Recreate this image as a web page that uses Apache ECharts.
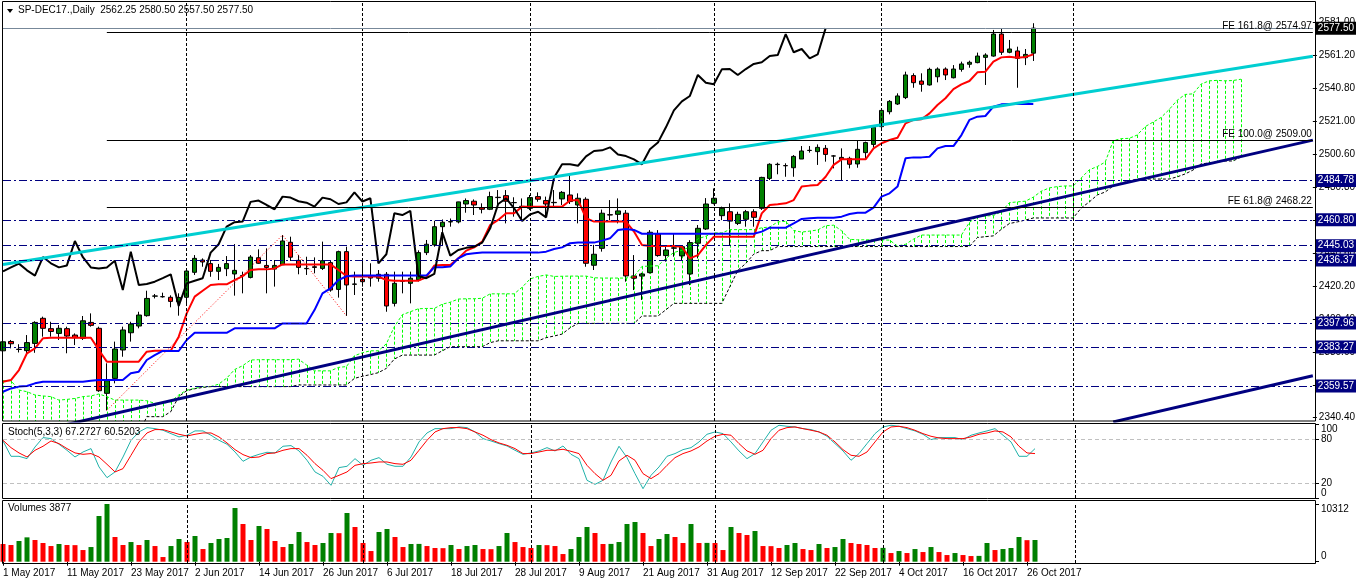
<!DOCTYPE html>
<html>
<head>
<meta charset="utf-8">
<title>SP-DEC17 Daily</title>
<script src="https://cdn.jsdelivr.net/npm/echarts@6/dist/echarts.min.js"></script>
<style>
  html, body { margin: 0; padding: 0; background: #fff; }
  #chart { width: 1358px; height: 584px; }
</style>
</head>
<body>
<div id="chart"></div>
<script>
// daily bars from 1 May 2017 to 27 Oct 2017
const open = [
  2381.0, 2386.7, 2382.0, 2381.1, 2385.5, 2400.8, 2394.5, 2391.6, 2394.5, 2390.6,
  2388.6, 2398.3, 2394.7, 2355.1, 2364.2, 2381.5, 2392.0, 2396.1, 2402.4, 2414.3,
  2413.9, 2413.6, 2410.9, 2413.6, 2428.8, 2436.3, 2434.1, 2429.4, 2431.0, 2427.8,
  2426.9, 2425.7, 2437.7, 2433.0, 2430.8, 2433.4, 2447.1, 2436.1, 2431.0, 2432.2,
  2431.2, 2434.7, 2418.4, 2441.4, 2421.5, 2424.5, 2426.8, 2425.2, 2427.6, 2409.9,
  2423.3, 2422.1, 2424.2, 2440.8, 2445.5, 2456.6, 2459.5, 2459.5, 2470.4, 2472.1,
  2468.2, 2467.2, 2474.5, 2475.5, 2471.3, 2469.0, 2467.8, 2474.9, 2472.5, 2471.2,
  2473.5, 2475.9, 2469.8, 2473.3, 2433.1, 2443.4, 2463.9, 2464.1, 2464.8, 2426.6,
  2426.5, 2428.6, 2452.2, 2439.0, 2443.5, 2438.8, 2427.8, 2446.5, 2455.2, 2470.8,
  2463.3, 2465.7, 2458.6, 2461.1, 2465.7, 2467.8, 2486.0, 2494.4, 2493.8, 2492.5,
  2497.8, 2503.0, 2502.3, 2504.3, 2499.7, 2498.8, 2498.2, 2494.8, 2501.7, 2506.7,
  2517.5, 2526.6, 2531.3, 2535.2, 2548.6, 2545.3, 2542.9, 2547.9, 2552.6, 2547.3,
  2552.4, 2555.5, 2556.5, 2559.7, 2560.5, 2573.9, 2562.8, 2563.6, 2559.5, 2562.25
];
const high = [
  2390.0, 2387.6, 2385.0, 2390.6, 2399.0, 2401.8, 2398.7, 2396.7, 2395.7, 2391.6,
  2402.2, 2403.8, 2395.7, 2373.4, 2386.6, 2395.7, 2398.7, 2404.8, 2417.6, 2415.6,
  2416.4, 2414.8, 2416.0, 2430.6, 2439.3, 2437.3, 2436.3, 2433.9, 2438.7, 2446.0,
  2429.2, 2439.3, 2442.8, 2443.4, 2436.3, 2451.5, 2450.5, 2439.3, 2438.3, 2437.9,
  2447.5, 2436.3, 2442.0, 2444.4, 2429.2, 2436.3, 2434.3, 2430.2, 2429.0, 2429.2,
  2429.2, 2429.2, 2442.2, 2448.5, 2460.2, 2461.0, 2461.6, 2471.8, 2473.8, 2473.2,
  2470.8, 2477.9, 2478.9, 2478.9, 2474.5, 2473.8, 2475.9, 2477.5, 2474.9, 2478.9,
  2478.3, 2488.1, 2476.9, 2474.5, 2445.5, 2467.0, 2472.8, 2473.8, 2466.7, 2439.3,
  2428.5, 2454.5, 2454.5, 2445.4, 2452.5, 2445.4, 2448.4, 2457.6, 2474.0, 2479.9,
  2468.8, 2470.8, 2465.7, 2466.8, 2467.2, 2487.0, 2495.2, 2495.6, 2495.2, 2500.2,
  2505.7, 2505.7, 2506.7, 2506.3, 2500.2, 2504.3, 2499.2, 2508.8, 2508.4, 2517.5,
  2528.7, 2533.7, 2537.8, 2551.0, 2550.0, 2550.0, 2553.4, 2553.6, 2553.6, 2555.0,
  2557.1, 2557.7, 2562.6, 2562.2, 2576.4, 2577.0, 2570.3, 2566.2, 2564.8, 2580.5
];
const low = [
  2377.5, 2382.5, 2380.0, 2378.4, 2379.8, 2389.6, 2389.6, 2387.6, 2379.5, 2384.5,
  2387.6, 2395.7, 2356.0, 2344.75, 2361.2, 2377.4, 2386.6, 2394.7, 2401.8, 2412.9,
  2413.4, 2407.5, 2402.4, 2409.9, 2427.2, 2432.2, 2426.1, 2424.1, 2426.5, 2414.6,
  2416.0, 2425.1, 2434.0, 2416.0, 2420.1, 2433.2, 2435.7, 2427.6, 2427.2, 2428.2,
  2430.2, 2417.0, 2413.4, 2402.25, 2415.0, 2420.1, 2420.1, 2423.1, 2404.8, 2408.0,
  2416.0, 2409.9, 2423.2, 2439.3, 2444.4, 2445.0, 2456.6, 2458.6, 2465.1, 2463.7,
  2464.7, 2466.7, 2469.8, 2458.6, 2462.7, 2460.6, 2466.7, 2471.8, 2462.7, 2468.8,
  2469.8, 2470.4, 2458.6, 2432.2, 2430.2, 2441.4, 2460.6, 2458.6, 2423.1, 2418.0,
  2412.0, 2428.1, 2438.3, 2435.3, 2438.3, 2436.3, 2421.0, 2437.3, 2454.6, 2470.2,
  2460.6, 2445.4, 2457.6, 2456.6, 2456.6, 2466.8, 2485.0, 2488.5, 2487.0, 2487.0,
  2497.8, 2501.7, 2494.2, 2496.2, 2492.1, 2485.0, 2492.1, 2492.5, 2498.2, 2504.7,
  2515.5, 2525.0, 2530.7, 2534.3, 2541.2, 2538.8, 2542.5, 2544.5, 2545.9, 2546.9,
  2551.0, 2553.4, 2556.1, 2542.9, 2560.1, 2561.2, 2562.2, 2541.2, 2555.0, 2557.5
];
const close = [
  2386.5, 2385.3, 2381.8, 2386.0, 2398.3, 2394.7, 2392.8, 2394.7, 2390.0, 2389.0,
  2399.3, 2396.5, 2356.7, 2362.8, 2382.1, 2393.7, 2397.3, 2402.8, 2412.9, 2414.4,
  2414.0, 2411.1, 2413.5, 2429.6, 2437.3, 2435.1, 2429.4, 2431.8, 2434.1, 2430.0,
  2426.8, 2438.1, 2434.3, 2431.8, 2433.0, 2447.9, 2438.0, 2431.8, 2431.2, 2431.8,
  2435.9, 2418.0, 2441.4, 2421.1, 2421.7, 2423.1, 2425.3, 2427.6, 2408.3, 2422.1,
  2423.7, 2425.2, 2440.8, 2445.9, 2456.6, 2459.3, 2459.7, 2471.7, 2472.5, 2469.8,
  2467.2, 2474.9, 2474.3, 2472.1, 2471.2, 2468.8, 2474.3, 2473.3, 2470.4, 2471.4,
  2477.5, 2471.9, 2473.9, 2434.3, 2439.8, 2464.8, 2463.7, 2466.2, 2426.6, 2425.2,
  2427.8, 2453.2, 2439.0, 2442.4, 2443.7, 2444.4, 2446.9, 2455.6, 2470.4, 2473.9,
  2467.8, 2460.0, 2464.1, 2465.7, 2462.3, 2486.6, 2494.6, 2494.6, 2493.7, 2499.4,
  2502.7, 2503.1, 2504.9, 2500.6, 2499.6, 2497.6, 2494.6, 2503.7, 2507.8, 2517.1,
  2527.4, 2532.9, 2536.2, 2549.0, 2544.3, 2543.3, 2552.4, 2552.6, 2549.0, 2552.6,
  2555.7, 2556.7, 2560.5, 2561.1, 2573.9, 2562.8, 2564.8, 2559.1, 2561.5, 2577.5
];
const volume = [
  3159, 2980, 3695, 4351, 3874, 3338, 2801, 3159, 2980, 2960,
  2086, 2622, 8165, 10312, 4410, 2980, 3516, 2980, 3874, 2801,
  834, 2801, 4053, 3516, 4589, 2265, 3338, 4053, 4232, 9596,
  6735, 3874, 6377, 5841, 3695, 2622, 3159, 5304, 3516, 2980,
  3338, 5126, 5100, 8702, 6198, 3338, 1907, 5304, 5841, 4410,
  2622, 3159, 3180, 2801, 2444, 2420, 2980, 2265, 2801, 2980,
  2265, 2240, 2801, 5126, 3516, 2622, 2444, 2980, 2960, 2801,
  1371, 2265, 4410, 6198, 5126, 3159, 3180, 3516, 6735, 7092,
  5126, 2801, 4053, 4947, 4410, 3338, 6735, 3338, 3360, 3338,
  2086, 6198, 5126, 4768, 5483, 2801, 2780, 2444, 2980, 3338,
  2265, 2086, 3159, 2444, 2622, 4053, 3338, 3159, 2980, 2444,
  2470, 1550, 1907, 1550, 2265, 1728, 2622, 1728, 1192, 1550,
  1192, 1013, 1040, 3338, 2086, 2265, 2444, 4410, 3850, 3877
];
const stochMain = [
  77.7, 56.8, 56.8, 53.6, 69.5, 82.3, 80.9, 73.2, 65.0, 55.9,
  62.7, 67.3, 42.3, 27.7, 35.5, 55.9, 78.6, 90.0, 95.9, 94.5,
  92.3, 87.7, 83.2, 85.5, 91.4, 91.4, 85.5, 78.6, 73.2, 62.7,
  50.0, 55.9, 59.5, 62.3, 61.4, 70.5, 71.4, 64.1, 51.4, 35.5,
  29.5, 17.3, 41.4, 43.2, 53.6, 44.5, 51.4, 55.0, 45.9, 43.2,
  43.2, 55.9, 76.4, 88.6, 94.5, 94.5, 94.5, 96.8, 95.9, 90.0,
  80.9, 77.7, 74.1, 70.9, 65.0, 59.5, 61.4, 64.1, 68.6, 64.1,
  70.9, 59.5, 53.6, 24.1, 18.6, 24.1, 49.1, 70.5, 55.0, 33.2,
  12.7, 30.9, 42.3, 56.8, 60.5, 65.9, 68.6, 76.4, 86.8, 90.0,
  87.7, 76.4, 64.1, 53.6, 60.5, 76.4, 92.3, 99.1, 97.7, 96.8,
  94.5, 93.2, 90.0, 84.1, 74.1, 64.1, 51.4, 60.5, 74.1, 87.7,
  96.8, 99.1, 97.7, 94.5, 91.4, 86.8, 79.5, 82.3, 82.3, 82.3,
  79.5, 85.5, 88.6, 91.4, 94.5, 85.5, 76.4, 56.8, 56.8, 67.27
];
const stochSignal = [
  78.6, 68.6, 61.4, 55.9, 65.0, 70.5, 77.7, 74.1, 67.3, 61.4,
  59.5, 60.5, 55.9, 45.9, 35.5, 40.0, 58.2, 76.4, 88.6, 93.2,
  93.2, 90.0, 86.8, 84.5, 86.8, 88.6, 88.6, 83.2, 75.0, 65.9,
  59.1, 55.0, 55.9, 60.5, 61.4, 65.0, 67.3, 67.3, 58.2, 46.8,
  37.7, 26.4, 30.9, 35.5, 44.5, 46.8, 47.7, 49.1, 49.1, 46.8,
  45.9, 51.4, 65.0, 78.6, 90.0, 94.5, 95.9, 95.9, 94.5, 90.0,
  85.5, 79.5, 75.0, 71.8, 67.3, 60.5, 60.5, 62.7, 65.0, 65.0,
  66.4, 63.6, 60.5, 44.5, 33.2, 24.1, 30.9, 50.5, 58.2, 51.4,
  33.2, 26.4, 33.2, 44.5, 55.0, 60.5, 64.1, 69.5, 77.7, 84.1,
  86.8, 85.5, 74.1, 64.1, 59.5, 65.0, 80.9, 92.3, 95.9, 96.8,
  94.5, 92.3, 90.0, 85.5, 76.4, 65.9, 58.2, 56.8, 62.7, 76.4,
  90.0, 96.8, 97.7, 95.9, 92.3, 87.7, 84.1, 81.8, 80.9, 80.9,
  80.9, 83.2, 86.8, 88.6, 91.4, 90.0, 83.2, 70.5, 61.4, 60.52
];
// Ichimoku lines as drawn
const tenkan = [
  2362.2, 2363.2, 2369.3, 2379.5, 2382.5, 2388.6, 2389.0, 2389.0, 2389.0, 2389.0,
  2389.0, 2389.0, 2381.5, 2374.4, 2374.4, 2374.4, 2374.4, 2374.4, 2380.5, 2381.1,
  2381.1, 2381.1, 2389.6, 2403.8, 2414.0, 2417.6, 2421.1, 2421.5, 2421.5, 2424.1,
  2426.5, 2430.2, 2430.6, 2430.6, 2431.2, 2433.6, 2433.6, 2433.6, 2433.6, 2433.6,
  2433.6, 2433.6, 2430.2, 2426.6, 2426.2, 2426.2, 2426.2, 2426.2, 2424.1, 2423.7,
  2423.7, 2423.7, 2423.7, 2425.8, 2432.9, 2433.3, 2433.3, 2437.3, 2442.0, 2444.0,
  2447.5, 2457.6, 2460.7, 2464.8, 2464.8, 2468.8, 2468.8, 2468.8, 2468.8, 2468.8,
  2468.8, 2472.5, 2472.9, 2461.7, 2459.7, 2459.7, 2459.7, 2459.7, 2459.7, 2453.6,
  2445.5, 2444.9, 2444.9, 2444.9, 2444.9, 2444.4, 2437.3, 2439.3, 2445.4, 2450.5,
  2450.5, 2450.5, 2450.5, 2450.5, 2450.5, 2464.7, 2469.8, 2470.2, 2470.8, 2472.8,
  2481.0, 2481.6, 2482.0, 2487.0, 2494.2, 2497.6, 2497.6, 2497.6, 2497.6, 2504.3,
  2507.4, 2509.4, 2510.8, 2519.5, 2521.6, 2522.0, 2525.6, 2530.7, 2534.8, 2540.4,
  2543.3, 2545.3, 2550.6, 2551.0, 2557.1, 2559.7, 2560.1, 2559.5, 2559.9, 2561.5
];
const kijun = [
  2356.1, 2358.1, 2359.2, 2359.6, 2361.2, 2362.2, 2362.2, 2362.2, 2362.2, 2362.2,
  2362.2, 2362.8, 2363.2, 2363.2, 2363.2, 2363.2, 2367.3, 2368.3, 2375.4, 2378.4,
  2380.9, 2380.9, 2380.9, 2387.6, 2392.0, 2392.0, 2392.0, 2392.0, 2392.0, 2394.7,
  2394.7, 2394.7, 2394.7, 2394.7, 2394.7, 2397.7, 2397.7, 2397.7, 2397.7, 2405.8,
  2416.0, 2419.0, 2424.1, 2426.4, 2426.8, 2426.8, 2426.8, 2426.8, 2426.8, 2426.8,
  2426.8, 2426.8, 2426.8, 2426.8, 2431.9, 2431.9, 2432.3, 2437.3, 2439.8, 2440.4,
  2440.8, 2440.8, 2440.8, 2440.8, 2440.8, 2440.8, 2440.8, 2440.8, 2441.4, 2443.0,
  2444.0, 2446.5, 2446.9, 2446.9, 2446.9, 2448.1, 2449.5, 2454.6, 2455.2, 2454.6,
  2452.3, 2452.3, 2452.3, 2452.3, 2452.3, 2452.3, 2452.3, 2452.3, 2452.3, 2452.3,
  2452.3, 2452.3, 2452.3, 2452.3, 2452.3, 2453.6, 2456.0, 2456.0, 2456.0, 2458.6,
  2461.3, 2461.7, 2462.1, 2462.1, 2462.1, 2462.7, 2464.3, 2465.1, 2465.1, 2468.2,
  2474.9, 2476.9, 2481.0, 2498.2, 2498.8, 2498.8, 2499.2, 2504.3, 2505.7, 2505.7,
  2512.4, 2521.6, 2523.6, 2524.0, 2529.7, 2531.1, 2531.3, 2531.3, 2531.3, 2531.3
];
// senkou spans, as plotted (26 bars ahead of the price)
const spanA = [
  2362.8, 2362.8, 2357.1, 2356.1, 2354.1, 2353.5, 2353.1, 2351.0, 2351.4, 2352.0,
  2353.1, 2353.5, 2354.7, 2353.1, 2351.0, 2351.0, 2351.0, 2351.0, 2350.6, 2349.0,
  2349.0, 2350.0, 2354.1, 2357.1, 2358.1, 2359.2, 2359.2, 2360.7, 2364.3, 2369.6,
  2371.9, 2375.4, 2375.6, 2375.6, 2375.6, 2375.6, 2375.6, 2375.9, 2372.4, 2368.8,
  2368.8, 2368.8, 2370.9, 2371.4, 2378.0, 2379.8, 2381.0, 2381.0, 2385.3, 2395.7,
  2403.0, 2404.8, 2406.6, 2406.8, 2406.8, 2409.4, 2410.6, 2412.5, 2412.7, 2412.7,
  2413.0, 2415.7, 2415.7, 2415.7, 2415.7, 2419.7, 2424.8, 2426.3, 2427.2, 2426.3,
  2426.4, 2426.5, 2426.5, 2426.5, 2425.5, 2425.3, 2425.3, 2425.3, 2425.3, 2426.3,
  2432.4, 2432.6, 2432.8, 2437.3, 2440.9, 2442.2, 2444.2, 2449.2, 2450.8, 2452.8,
  2452.8, 2454.8, 2454.8, 2454.8, 2454.8, 2455.9, 2456.4, 2459.5, 2459.9, 2454.3,
  2453.3, 2453.9, 2454.6, 2457.2, 2457.5, 2454.1, 2448.9, 2448.6, 2448.6, 2448.6,
  2448.6, 2448.4, 2444.8, 2445.9, 2449.0, 2451.5, 2451.5, 2451.5, 2451.5, 2451.5,
  2451.5, 2459.2, 2462.9, 2463.1, 2463.4, 2465.7, 2471.2, 2471.7, 2472.1, 2474.6,
  2478.2, 2480.2, 2481.0, 2481.4, 2481.4, 2486.3, 2491.2, 2493.2, 2495.9, 2508.9,
  2510.2, 2510.4, 2512.4, 2517.5, 2520.3, 2523.1, 2527.9, 2533.5, 2537.1, 2537.5,
  2543.4, 2545.4, 2545.7, 2545.4, 2545.6, 2546.4
];
const spanB = [
  2330.0, 2330.0, 2330.0, 2330.0, 2330.0, 2330.0, 2330.0, 2330.0, 2330.0, 2330.0,
  2330.0, 2330.0, 2330.0, 2330.0, 2330.0, 2330.0, 2330.0, 2330.0, 2340.9, 2340.9,
  2340.9, 2343.9, 2353.1, 2356.7, 2357.9, 2358.7, 2359.2, 2359.2, 2359.2, 2359.2,
  2359.2, 2359.2, 2359.2, 2359.2, 2359.2, 2359.2, 2359.2, 2360.2, 2360.2, 2360.2,
  2360.2, 2360.2, 2360.2, 2360.2, 2364.2, 2365.5, 2366.5, 2367.7, 2370.3, 2376.0,
  2378.4, 2378.4, 2378.4, 2378.4, 2378.4, 2381.0, 2383.5, 2383.5, 2383.5, 2383.5,
  2383.5, 2386.0, 2387.1, 2387.1, 2387.1, 2387.1, 2387.1, 2387.1, 2389.0, 2390.0,
  2391.2, 2395.0, 2397.7, 2397.7, 2397.7, 2397.7, 2397.7, 2397.7, 2397.7, 2397.7,
  2402.2, 2402.2, 2402.2, 2406.0, 2409.9, 2409.9, 2409.9, 2409.9, 2409.9, 2409.9,
  2409.9, 2420.0, 2430.0, 2434.2, 2439.9, 2442.0, 2442.0, 2444.5, 2444.5, 2444.5,
  2444.5, 2444.5, 2444.5, 2444.5, 2444.5, 2444.5, 2444.5, 2444.5, 2444.5, 2444.5,
  2444.5, 2444.5, 2444.5, 2444.5, 2444.5, 2444.5, 2444.5, 2444.5, 2444.5, 2444.5,
  2444.5, 2444.5, 2450.0, 2450.5, 2451.0, 2455.0, 2458.5, 2459.5, 2460.6, 2461.9,
  2461.9, 2461.9, 2461.9, 2461.9, 2461.9, 2468.0, 2471.6, 2475.9, 2477.7, 2481.4,
  2483.2, 2484.4, 2485.6, 2485.6, 2485.6, 2485.6, 2485.6, 2486.9, 2488.7, 2491.1,
  2494.8, 2495.4, 2496.0, 2496.6, 2496.6, 2499.0
];

// drawn objects: [bar index, price]
const priceLevels = [2484.78, 2460.80, 2445.03, 2436.37, 2397.96, 2383.27, 2359.57];
const bidPrice = 2577.50;
const fiboLevels = [
  { name: 'FE 161.8', value: 2574.97 },
  { name: 'FE 100.0', value: 2509.00 },
  { name: 'FE 61.8', value: 2468.22 }
];
const fiboPoints = [[13, 2344.75], [35, 2451.5], [43, 2402.25]];
const cyanTrend = [[0, 2433.6], [164, 2560.4]];
const navyTrend = [[0, 2327.3], [164, 2509.3]];
const navyTrend2 = [[139, 2337.7], [164, 2365.8]];

const priceTicks = [2340.40, 2360.20, 2380.00, 2400.40, 2420.20, 2440.60, 2460.80,
  2480.80, 2500.60, 2521.00, 2540.80, 2561.20, 2581.00];
const stochLevels = [20, 80];
const stochBounds = [0, 100];
const volumeTicks = [0, 10312];
const monthStarts = [23, 45, 66, 89, 110, 134];

const SLOTS = 165;
const FONT = 'Liberation Sans, Arial, sans-serif';
const PRICE_MIN = 2338.26, PRICE_MAX = 2594.03;
const GREEN = '#008000', RED = '#ff0000';

const monthNames = ['Jan', 'Feb', 'Mar', 'Apr', 'May', 'Jun', 'Jul', 'Aug', 'Sep', 'Oct', 'Nov', 'Dec'];
const categories = [];
const day = new Date(Date.UTC(2017, 4, 1));
while (categories.length < SLOTS) {
  const wd = day.getUTCDay();
  if (wd !== 0 && wd !== 6) {
    categories.push(day.getUTCDate() + ' ' + monthNames[day.getUTCMonth()] + ' ' + day.getUTCFullYear());
  }
  day.setUTCDate(day.getUTCDate() + 1);
}
const nBars = close.length;

const candles = open.map((o, i) => [o, close[i], low[i], high[i]]);
const chikou = categories.map((_, k) => (k + 26 < nBars ? close[k + 26] : null));
const hatch = spanA.map((a, j) => [j, a, spanB[j]]);
const volumeBars = volume.map((v, i) => ({
  value: v,
  itemStyle: { color: i > 0 && v > volume[i - 1] ? GREEN : RED }
}));

const f2 = (v) => v.toFixed(2);
const monthLines = (idx) => ({
  symbol: ['none', 'none'],
  silent: true,
  animation: false,
  label: { show: false },
  lineStyle: { color: '#000', width: 1, type: [3, 2] },
  data: idx.map((x) => ({ xAxis: x }))
});

const xAxisBase = (gridIndex) => ({
  type: 'category',
  gridIndex,
  data: categories,
  boundaryGap: false,
  axisLine: { show: false },
  axisTick: { show: false },
  axisLabel: { show: false },
  splitLine: { show: false }
});

// right-hand scale; edge labels are pulled inside the pane like the terminal does
const sideAxis = (gridIndex, min, max, ticks, edgeAlign) => ({
  type: 'value', gridIndex, position: 'right', min, max,
  axisLine: { show: false }, splitLine: { show: false },
  axisTick: { show: true, length: 4, customValues: ticks, lineStyle: { color: '#000' } },
  axisLabel: Object.assign({
    customValues: ticks, formatter: (v) => String(v),
    color: '#000', fontSize: 10, fontFamily: FONT, margin: 6,
    showMinLabel: true, showMaxLabel: true
  }, edgeAlign ? { verticalAlignMinLabel: 'bottom', verticalAlignMaxLabel: 'top' } : {})
});

const chart = echarts.init(document.getElementById('chart'), null, { renderer: 'canvas' });

const option = {
  animation: false,
  backgroundColor: '#fff',
  textStyle: { fontFamily: FONT },
  grid: [
    { left: 3, top: 1, width: 1312, height: 420 },
    { left: 3, top: 424.6, width: 1312, height: 73.4 },
    { left: 3, top: 504, width: 1312, height: 59 }
  ],
  xAxis: [
    xAxisBase(0),
    xAxisBase(1),
    Object.assign(xAxisBase(2), {
      axisTick: {
        show: true, length: 4,
        interval: (i) => i % 8 === 0 && i < nBars,
        lineStyle: { color: '#000' }
      },
      axisLabel: {
        show: true, align: 'left', margin: 5,
        interval: (i) => i % 8 === 0 && i < nBars,
        color: '#000', fontSize: 10, fontFamily: FONT
      }
    })
  ],
  yAxis: [
    {
      type: 'value', gridIndex: 0, position: 'right',
      min: PRICE_MIN, max: PRICE_MAX,
      axisLine: { show: false }, splitLine: { show: false },
      axisTick: { show: true, length: 4, customValues: priceTicks, lineStyle: { color: '#000' } },
      axisLabel: { customValues: priceTicks, formatter: f2, color: '#000', fontSize: 10, fontFamily: FONT, margin: 6 }
    },
    sideAxis(1, 0, 100, stochLevels, false),
    sideAxis(2, -232, 10312, volumeTicks, true),
    sideAxis(1, 0, 100, stochBounds, true)
  ],
  series: [
    // kumo hatching
    {
      type: 'custom', name: 'kumo', xAxisIndex: 0, yAxisIndex: 0,
      data: hatch, clip: true, silent: true,
      encode: { x: 0, y: [1, 2] },
      renderItem: (params, api) => {
        const j = api.value(0), a = api.value(1), b = api.value(2);
        const p1 = api.coord([j, a]);
        const p2 = api.coord([j, Math.max(b, PRICE_MIN)]);
        const x = Math.round(p1[0]) + 0.5;
        return {
          type: 'line',
          shape: { x1: x, y1: p1[1], x2: x, y2: p2[1] },
          style: { stroke: a >= b ? '#00ff00' : '#808080', lineWidth: 1, lineDash: [3, 2] }
        };
      }
    },
    {
      type: 'line', name: 'Senkou A', data: spanA, xAxisIndex: 0, yAxisIndex: 0,
      symbol: 'none', silent: true,
      lineStyle: { color: '#00ff00', width: 1, type: [3, 2] }
    },
    {
      type: 'line', name: 'Senkou B', data: spanB, xAxisIndex: 0, yAxisIndex: 0,
      symbol: 'none', silent: true,
      lineStyle: { color: '#000', width: 1, type: [3, 2] }
    },
    {
      type: 'candlestick', name: 'SP-DEC17', data: candles, xAxisIndex: 0, yAxisIndex: 0,
      barWidth: 5, silent: true,
      itemStyle: { color: GREEN, color0: RED, borderColor: '#000', borderColor0: '#000', borderWidth: 1 },
      markLine: {
        symbol: ['none', 'none'], silent: true, animation: false,
        data: [
          ...monthStarts.map((x) => ({
            xAxis: x, label: { show: false },
            lineStyle: { color: '#000', width: 1, type: [3, 2] }
          })),
          ...priceLevels.map((v) => ({
            yAxis: v,
            lineStyle: { color: '#000080', width: 1, type: [8, 3, 2, 3] },
            label: {
              show: true, position: 'end', distance: 3, formatter: f2(v),
              color: '#fff', backgroundColor: '#000080', padding: [2, 2, 1, 2],
              fontSize: 10, fontFamily: FONT
            }
          })),
          {
            yAxis: bidPrice,
            lineStyle: { color: '#778899', width: 1, type: 'solid' },
            label: {
              show: true, position: 'end', distance: 3, formatter: f2(bidPrice),
              color: '#fff', backgroundColor: '#000', padding: [2, 2, 1, 2],
              fontSize: 10, fontFamily: FONT
            }
          },
          ...fiboLevels.map((lv) => [
            {
              coord: [fiboPoints[0][0], lv.value],
              lineStyle: { color: '#000', width: 1, type: 'solid' },
              label: {
                show: true, position: 'insideEndTop', distance: 1,
                formatter: lv.name + '@ ' + f2(lv.value),
                color: '#000', fontSize: 10, fontFamily: FONT
              }
            },
            { coord: [SLOTS - 1, lv.value] }
          ])
        ]
      }
    },
    {
      type: 'line', name: 'FE', data: fiboPoints, xAxisIndex: 0, yAxisIndex: 0,
      symbol: 'none', silent: true,
      lineStyle: { color: '#ff0000', width: 1, type: [1, 2] }
    },
    {
      type: 'line', name: 'Tenkan', data: tenkan, xAxisIndex: 0, yAxisIndex: 0,
      symbol: 'none', silent: true, lineStyle: { color: '#ff0000', width: 2 }
    },
    {
      type: 'line', name: 'Kijun', data: kijun, xAxisIndex: 0, yAxisIndex: 0,
      symbol: 'none', silent: true, lineStyle: { color: '#0000ff', width: 2 }
    },
    {
      type: 'line', name: 'Chikou', data: chikou, xAxisIndex: 0, yAxisIndex: 0,
      symbol: 'none', silent: true, lineStyle: { color: '#000', width: 2 }
    },
    {
      type: 'line', name: 'trend cyan', data: cyanTrend, xAxisIndex: 0, yAxisIndex: 0,
      symbol: 'none', silent: true, lineStyle: { color: '#00ced1', width: 3 }
    },
    {
      type: 'line', name: 'trend navy', data: navyTrend, xAxisIndex: 0, yAxisIndex: 0,
      symbol: 'none', silent: true, lineStyle: { color: '#000080', width: 3 }
    },
    {
      type: 'line', name: 'trend navy 2', data: navyTrend2, xAxisIndex: 0, yAxisIndex: 0,
      symbol: 'none', silent: true, lineStyle: { color: '#000080', width: 3 }
    },
    // stochastic
    {
      type: 'line', name: 'Stoch main', data: stochMain, xAxisIndex: 1, yAxisIndex: 1,
      symbol: 'none', silent: true, lineStyle: { color: '#20b2aa', width: 1 },
      markLine: {
        symbol: ['none', 'none'], silent: true, animation: false, label: { show: false },
        data: [
          ...monthStarts.map((x) => ({ xAxis: x, lineStyle: { color: '#000', width: 1, type: [3, 2] } })),
          ...stochLevels.map((v) => ({ yAxis: v, lineStyle: { color: '#c0c0c0', width: 1, type: [4, 3] } }))
        ]
      }
    },
    {
      type: 'line', name: 'Stoch signal', data: stochSignal, xAxisIndex: 1, yAxisIndex: 1,
      symbol: 'none', silent: true, lineStyle: { color: '#ff0000', width: 1 }
    },
    // volumes
    {
      type: 'bar', name: 'Volumes', data: volumeBars, xAxisIndex: 2, yAxisIndex: 2,
      barWidth: 5, silent: true,
      markLine: monthLines(monthStarts)
    }
  ],
  graphic: [
    { type: 'rect', silent: true, shape: { x: 2.5, y: 1.5, width: 1313, height: 419.5 }, style: { fill: 'none', stroke: '#000', lineWidth: 1 }, z: 100 },
    { type: 'rect', silent: true, shape: { x: 2.5, y: 423.5, width: 1313, height: 75 }, style: { fill: 'none', stroke: '#000', lineWidth: 1 }, z: 100 },
    { type: 'rect', silent: true, shape: { x: 2.5, y: 500.5, width: 1313, height: 63 }, style: { fill: 'none', stroke: '#000', lineWidth: 1 }, z: 100 },
    { type: 'polygon', silent: true, shape: { points: [[7, 9], [13, 9], [10, 13]] }, style: { fill: '#000' }, z: 100 },
    {
      type: 'text', silent: true, left: 18, top: 5, z: 100,
      style: {
        text: 'SP-DEC17.,Daily  ' + [open[nBars - 1], high[nBars - 1], low[nBars - 1], close[nBars - 1]].map(f2).join(' '),
        fill: '#000', font: '10px ' + FONT
      }
    },
    {
      type: 'text', silent: true, left: 8, top: 427, z: 100,
      style: { text: 'Stoch(5,3,3) 67.2727 60.5203', fill: '#000', font: '10px ' + FONT }
    },
    {
      type: 'text', silent: true, left: 8, top: 503, z: 100,
      style: { text: 'Volumes ' + volume[nBars - 1], fill: '#000', font: '10px ' + FONT }
    }
  ]
};

chart.setOption(option);
</script>
</body>
</html>
